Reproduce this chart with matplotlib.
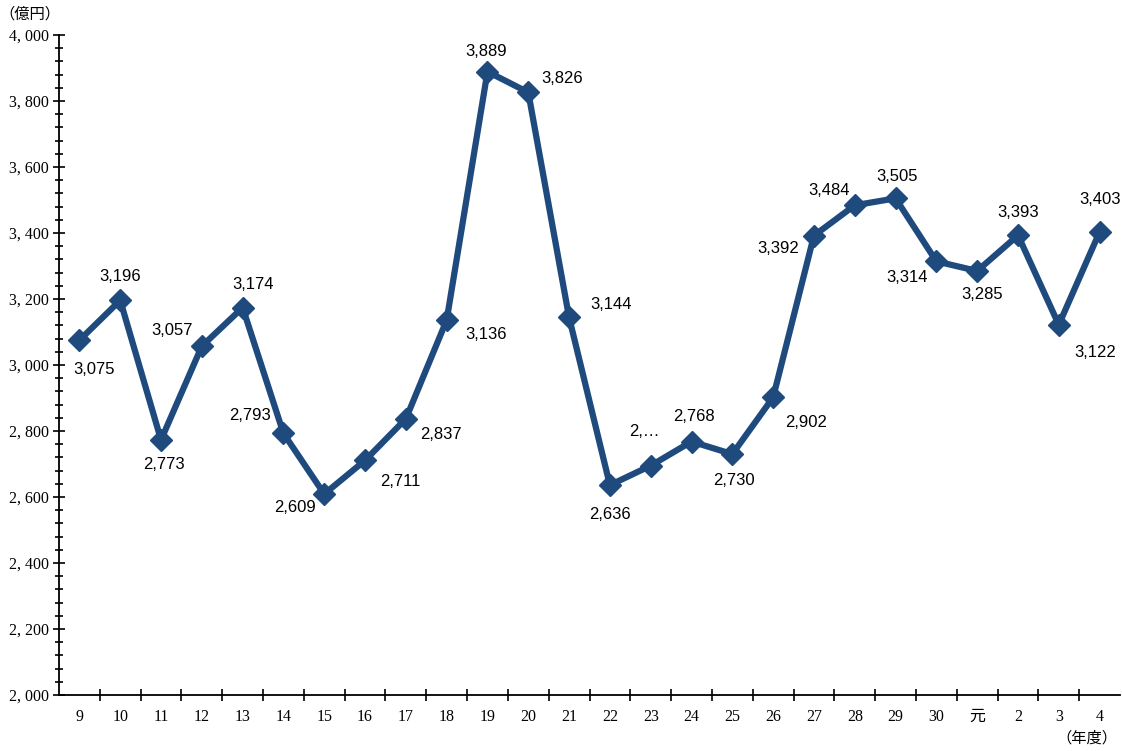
import matplotlib
matplotlib.use("Agg")
import matplotlib.pyplot as plt
from matplotlib.ticker import MultipleLocator, FuncFormatter

years = ["9", "10", "11", "12", "13", "14", "15", "16", "17", "18", "19", "20", "21",
         "22", "23", "24", "25", "26", "27", "28", "29", "30", "元", "2", "3", "4"]
values = [3075, 3196, 2773, 3057, 3174, 2793, 2609, 2711, 2837, 3136, 3889, 3826, 3144,
          2636, 2695, 2768, 2730, 2902, 3392, 3484, 3505, 3314, 3285, 3393, 3122, 3403]
labels = ["3,075", "3,196", "2,773", "3,057", "3,174", "2,793", "2,609", "2,711", "2,837",
          "3,136", "3,889", "3,826", "3,144", "2,636", "2,…", "2,768", "2,730", "2,902",
          "3,392", "3,484", "3,505", "3,314", "3,285", "3,393", "3,122", "3,403"]

# label offsets in pixels (style)
offsets = [(15, -29), (0, 24), (3, -25), (-30, 16), (10, 23), (-33, 18), (-29, -13),
           (35, -21), (35, -16), (39, -14), (-1, 20), (34, 14), (42, 13), (0, -29),
           (-6, 34), (2, 25), (2, -26), (33, -25), (-36, -13), (-26, 15), (2, 22),
           (-29, -16), (5, -24), (0, 23), (36, -28), (0, 33)]

color = "#1F4A7E"
serif = ["Liberation Serif", "Noto Sans CJK JP", "DejaVu Serif"]

fig = plt.figure(figsize=(11.22, 7.51), dpi=100)
ax = fig.add_axes([59 / 1122, 1 - 695 / 751, (1120 - 59) / 1122, (695 - 35) / 751])

x = list(range(len(years)))
ax.plot(x, values, color=color, lw=4.5, marker="D", ms=11, mfc=color, mec=color,
        solid_joinstyle="miter", zorder=3)

for xi, v, lab, (dx, dy) in zip(x, values, labels, offsets):
    ax.annotate(lab, (xi, v), xytext=(dx, dy), textcoords="offset pixels",
                ha="center", va="center", fontsize=12, fontweight="medium",
                family=["Liberation Sans", "DejaVu Sans"], color="black")

ax.set_xlim(-0.5, len(years) - 0.5)
ax.set_ylim(2000, 4000)

ax.yaxis.set_major_locator(MultipleLocator(200))
ax.yaxis.set_minor_locator(MultipleLocator(40))
ax.yaxis.set_major_formatter(FuncFormatter(lambda v, p: f"{int(v):,}".replace(",", ", ")))

ax.set_xticks([i + 0.5 for i in range(len(years) - 1)])
ax.set_xticklabels([])
ax.set_xticks(x, minor=True)
ax.set_xticklabels(years, minor=True)

ax.tick_params(axis="y", which="major", direction="inout", length=8, width=1.2,
               labelsize=11.5)
ax.tick_params(axis="y", which="minor", direction="inout", length=6, width=1.2)
ax.tick_params(axis="x", which="major", direction="inout", length=9, width=1.2)
ax.tick_params(axis="x", which="minor", length=0, pad=10, labelsize=11.5)

for lab in ax.get_yticklabels() + ax.get_xticklabels(minor=True):
    lab.set_family(serif)

for s in ["top", "right"]:
    ax.spines[s].set_visible(False)
ax.spines["left"].set_linewidth(1.3)
ax.spines["bottom"].set_linewidth(1.3)

fig.text(30 / 1122, 1 - 14 / 751, "（億円）", ha="center", va="center", fontsize=11,
         family=["Noto Sans CJK JP", "DejaVu Sans"])
fig.text(1087 / 1122, 1 - 738 / 751, "（年度）", ha="center", va="center", fontsize=11,
         family=["Noto Sans CJK JP", "DejaVu Sans"])

fig.savefig("out.png", dpi=100)
